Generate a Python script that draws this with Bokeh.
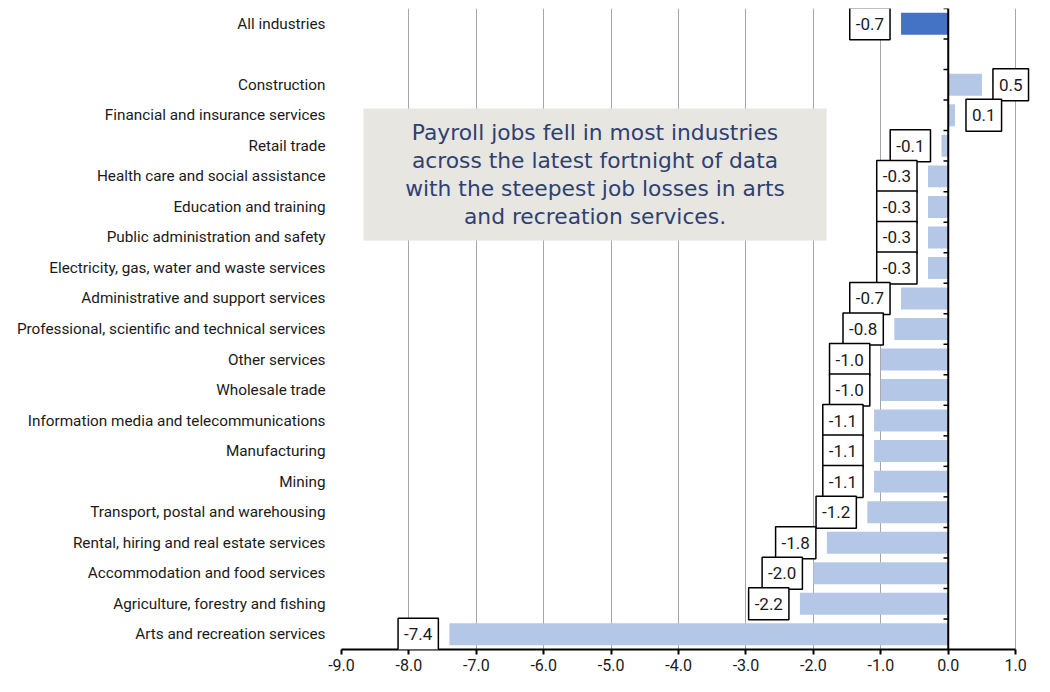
import numpy as np
from bokeh.plotting import figure
from bokeh.models import (ColumnDataSource, Label, Span, FixedTicker,
                          LinearAxis, BoxAnnotation, PrintfTickFormatter, Range1d)
from bokeh.embed import file_html
from bokeh.resources import INLINE

categories = [
    "All industries",
    "Construction",
    "Financial and insurance services",
    "Retail trade",
    "Health care and social assistance",
    "Education and training",
    "Public administration and safety",
    "Electricity, gas, water and waste services",
    "Administrative and support services",
    "Professional, scientific and technical services",
    "Other services",
    "Wholesale trade",
    "Information media and telecommunications",
    "Manufacturing",
    "Mining",
    "Transport, postal and warehousing",
    "Rental, hiring and real estate services",
    "Accommodation and food services",
    "Agriculture, forestry and fishing",
    "Arts and recreation services",
]
values = [-0.7, 0.5, 0.1, -0.1, -0.3, -0.3, -0.3, -0.3, -0.7, -0.8,
          -1.0, -1.0, -1.1, -1.1, -1.1, -1.2, -1.8, -2.0, -2.2, -7.4]
x_ticks = [-9.0, -8.0, -7.0, -6.0, -5.0, -4.0, -3.0, -2.0, -1.0, 0.0, 1.0]

DARK = "#4472C4"
LIGHT = "#B4C7E7"
TEXT = "#1A1A1A"

n = len(categories)
slots = n + 1  # one empty slot below "All industries"
ypos = [slots - 1 - i - (1 if i > 0 else 0) for i in range(n)]
colors = [DARK] + [LIGHT] * (n - 1)
labels = ["%.1f" % v for v in values]

src = ColumnDataSource(dict(y=ypos, v=values, c=colors, lab=labels))

# extra room on the right so the boxed "0.5" label is not clipped by the frame
p = figure(width=1034, height=676, output_backend="svg", toolbar_location=None,
           x_range=Range1d(x_ticks[0], x_ticks[-1] + 0.25),
           y_range=Range1d(-0.5, slots - 0.5),
           x_axis_location=None, y_axis_location=None)
p.min_border_left = 341
p.min_border_right = 2
p.min_border_top = 8
p.min_border_bottom = 27
p.outline_line_color = None
p.background_fill_color = "white"
p.border_fill_color = "white"

# vertical gridlines
p.ygrid.visible = False
p.xgrid.ticker = FixedTicker(ticks=x_ticks)
p.xgrid.grid_line_color = "#A6A6A6"
p.xgrid.grid_line_width = 1

# bars
p.hbar(y="y", right="v", left=0, height=0.72, fill_color="c", line_color=None, source=src)

# zero axis line with category ticks
p.add_layout(Span(location=0, dimension="height", line_color="black", line_width=2))
bounds = np.arange(0.5, slots, 1.0)
tick_len = 0.07
p.segment(x0=np.zeros_like(bounds), x1=np.full_like(bounds, -tick_len), y0=bounds, y1=bounds,
          line_color="black", line_width=1.5)

# bottom axis
xa = LinearAxis(ticker=FixedTicker(ticks=x_ticks), formatter=PrintfTickFormatter(format="%.1f"))
xa.bounds = (x_ticks[0], x_ticks[-1])
xa.axis_line_color = "black"
xa.axis_line_width = 2
xa.major_tick_in = 0
xa.major_tick_out = 5
xa.major_tick_line_color = "black"
xa.major_tick_line_width = 2
xa.minor_tick_line_color = None
xa.major_label_standoff = 4
xa.major_label_text_font = "Roboto"
xa.major_label_text_font_size = "16px"
xa.major_label_text_color = TEXT
p.add_layout(xa, "below")

# category axis on the left
ya = LinearAxis(ticker=FixedTicker(ticks=[float(y) for y in ypos]))
ya.major_label_overrides = {float(y): c for y, c in zip(ypos, categories)}
ya.axis_line_color = None
ya.major_tick_line_color = None
ya.minor_tick_line_color = None
ya.major_label_standoff = 10
ya.major_label_text_font = "Roboto"
ya.major_label_text_font_size = "15.3px"
ya.major_label_text_color = TEXT
p.add_layout(ya, "left")

# boxed data labels
for v, y, lab in zip(values, ypos, labels):
    neg = v < 0
    p.add_layout(Label(x=v, y=y, text=lab, x_offset=-11 if neg else 11,
                       text_align="right" if neg else "left", text_baseline="middle",
                       text_font="Roboto", text_font_size="17px", text_color=TEXT,
                       background_fill_color="white", border_line_color="black",
                       border_line_width=1.5,
                       padding=dict(left=6, right=6, top=10, bottom=10)))

# comment box
box_l, box_r, box_b, box_t = -8.674, -1.805, 12.9, 17.22
p.add_layout(BoxAnnotation(left=box_l, right=box_r, bottom=box_b, top=box_t,
                           fill_color="#E7E6E1", fill_alpha=1.0, line_color=None))
p.add_layout(Label(x=(box_l + box_r) / 2, y=(box_b + box_t) / 2,
                   text="Payroll jobs fell in most industries\nacross the latest fortnight of data\n"
                        "with the steepest job losses in arts\nand recreation services.",
                   text_align="center", text_baseline="middle", text_font="DejaVu Sans",
                   text_font_size="21.8px", text_color="#2F4172", text_line_height=1.13))

open("out.html", "w").write(file_html(p, INLINE))
